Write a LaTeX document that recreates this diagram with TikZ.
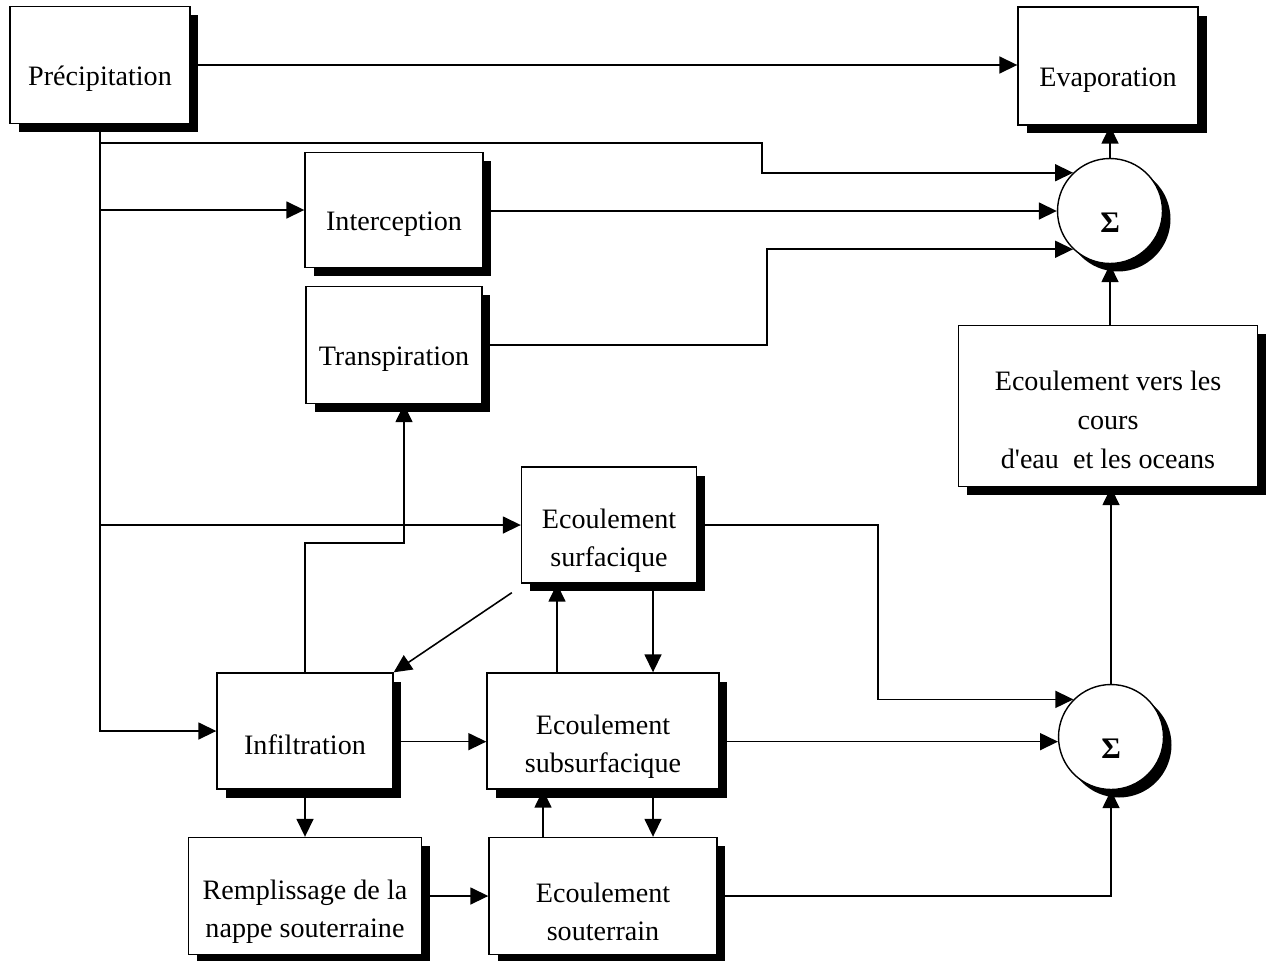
\documentclass[tikz,border=0pt]{standalone}
\usepackage{fontspec}
\setmainfont{Liberation Serif}
\usetikzlibrary{arrows.meta,shadows,calc}

\begin{document}
\begin{tikzpicture}[x=0.02cm, y=-0.02cm,
    box/.style={draw, line width=0.8pt, fill=white, align=center, inner sep=2pt,
        font=\fontsize{16}{22}\selectfont,
        execute at begin node={\rule{0pt}{#1}},
        drop shadow={shadow xshift=0.17cm, shadow yshift=-0.17cm, fill=black, opacity=1}},
    box/.default=27pt,
    sumnode/.style={draw, circle, line width=0.8pt, fill=white, minimum size=2.1cm, inner sep=0pt,
        font=\fontsize{17}{22}\selectfont\bfseries,
        execute at begin node={\rule{0pt}{25pt}},
        drop shadow={shadow xshift=0.16cm, shadow yshift=-0.16cm, fill=black, opacity=1}},
    arr/.style={-{Triangle[length=0.36cm, width=0.34cm]}, line width=0.9pt}]
    \useasboundingbox (0,0) rectangle (1273,960);

    % Boxes
    \node[box, minimum width=3.6cm, minimum height=2.34cm] (prec) at (100,65) {Précipitation};
    \node[box, minimum width=3.6cm, minimum height=2.36cm] (evap) at (1108,66) {Evaporation};
    \node[box, minimum width=3.56cm, minimum height=2.3cm] (inter) at (394,210) {Interception};
    \node[box, minimum width=3.52cm, minimum height=2.34cm] (transp) at (394,345) {Transpiration};
    \node[box=71pt, minimum width=5.98cm, minimum height=3.22cm] (ecvers) at (1108,406)
        {Ecoulement vers les\\cours\\d\textquotesingle eau~ et les oceans};
    \node[box=51pt, minimum width=3.5cm, minimum height=2.32cm] (surf) at (609,525) {Ecoulement\\surfacique};
    \node[box, minimum width=3.52cm, minimum height=2.32cm] (infil) at (305,731) {Infiltration};
    \node[box=51pt, minimum width=4.64cm, minimum height=2.32cm] (subsurf) at (603,731) {Ecoulement\\subsurfacique};
    \node[box=51pt, minimum width=4.66cm, minimum height=2.34cm] (rempl) at (305,896) {Remplissage de la\\nappe souterraine};
    \node[box=51pt, minimum width=4.56cm, minimum height=2.34cm] (sout) at (603,896) {Ecoulement\\souterrain};

    % Sums
    \node[sumnode] (sum1) at (1110,211) {Σ};
    \node[sumnode] (sum2) at (1111,737) {Σ};

    % Bends
    \coordinate (c1) at (762,143);
    \coordinate (c2) at (767,300);
    \coordinate (c3) at (404,543);
    \coordinate (c4) at (878,600);
    \coordinate (colA) at (557,0);
    \coordinate (colB) at (653,0);
    \coordinate (colC) at (543,0);

    % From precipitation
    \draw[arr] (prec.east) -- (prec.east -| evap.west);
    \draw[arr] (prec.south) |- (infil.west);
    \draw[arr] (prec.south |- c1) -- (c1) |- (sum1.134);
    \draw[arr] (prec.south |- inter.west) -- (inter.west);
    \draw[arr] (prec.south |- surf.west) -- (surf.west);

    % Into the upper sum
    \draw[arr] (inter.east |- sum1.west) -- (sum1.west);
    \draw[arr] (transp.east) -| (c2 |- sum1.226) -- (sum1.226);
    \draw[arr] (sum1.north) -- (sum1.north |- evap.south);
    \draw[arr] (sum1.south |- ecvers.north) -- (sum1.south);
    \draw[arr] (sum2.north) -- (sum2.north |- ecvers.south);

    % Infiltration
    \draw[arr] (infil.north) |- (c3) -- (c3 |- transp.south);
    \draw[arr] ([xshift=-0.18cm, yshift=-0.18cm]surf.south west) -- (infil.north east);
    \draw[arr] (infil.east |- sum2.185) -- (subsurf.west |- sum2.185);
    \draw[arr] (infil.south) -- (infil.south |- rempl.north);

    % Flows
    \draw[arr] (subsurf.north -| colA) -- (surf.south -| colA);
    \draw[arr] (surf.south -| colB) -- (subsurf.north -| colB);
    \draw[arr] (sout.north -| colC) -- (subsurf.south -| colC);
    \draw[arr] (subsurf.south -| colB) -- (sout.north -| colB);
    \draw[arr] (rempl.east) -- (sout.west);
    \draw[arr] (surf.east) -| (c4 |- sum2.135) -- (sum2.135);
    \draw[arr] (subsurf.east |- sum2.185) -- (sum2.185);
    \draw[arr] (sout.east) -| (sum2.south);
\end{tikzpicture}
\end{document}
